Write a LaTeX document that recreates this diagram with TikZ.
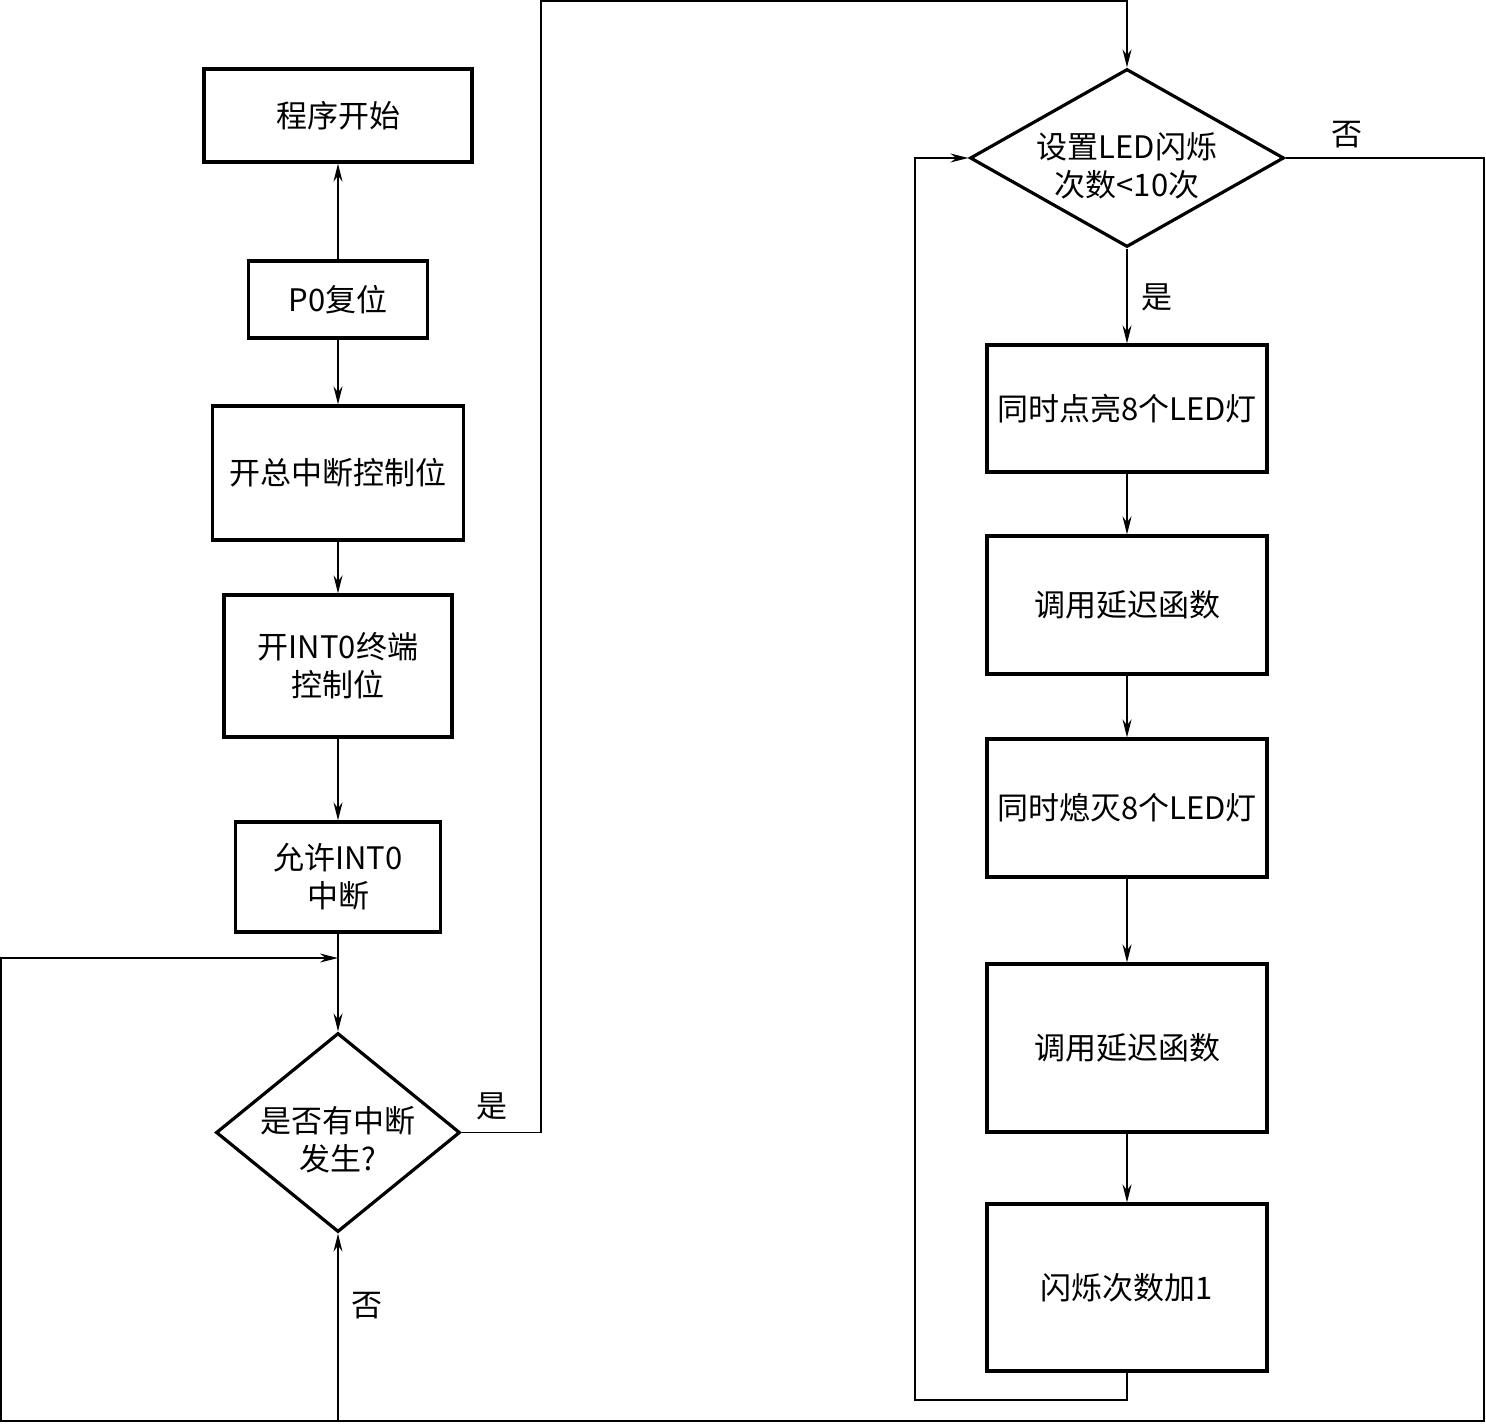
\documentclass[tikz,border=0pt]{standalone}
\usepackage{fontspec}
\setmainfont{Noto Sans CJK SC}
\usetikzlibrary{shapes.geometric,arrows.meta}
\begin{document}
\begin{tikzpicture}[x=0.5pt,y=-0.5pt,
  box/.style={draw,line width=1.6pt,rectangle,inner sep=0pt,align=center},
  dia/.style={draw,line width=1.6pt,diamond,inner sep=0pt},
  txt/.style={align=center,inner sep=0pt},
  arr/.style={line width=0.8pt,-{Stealth[length=9pt,width=4.5pt]}},
  lab/.style={inner sep=0pt},
  font=\fontsize{15.5}{19}\selectfont]
\useasboundingbox (0,0) rectangle (1486,1423);
% left column
\node[box,minimum width=134pt,minimum height=46.5pt] (start) at (338,115.5) {程序开始};
\node[box,minimum width=89.5pt,minimum height=38.5pt] (p0) at (338,299.5) {P0复位};
\node[box,minimum width=125.5pt,minimum height=67pt] (gie) at (338,473) {开总中断控制位};
\node[box,minimum width=114pt,minimum height=71pt] (int0) at (338,666) {开INT0终端\\控制位};
\node[box,minimum width=102.5pt,minimum height=55pt] (allow) at (338,877) {允许INT0\\中断};
\node[dia,minimum width=122pt,minimum height=99.5pt] (d1) at (338,1132.5) {};
\node[txt] (d1t) at (338,1140) {是否有中断\\发生?};
% right column
\node[dia,minimum width=157pt,minimum height=89pt] (d2) at (1127,158) {};
\node[txt] (d2t) at (1127,166) {设置LED闪烁\\次数<10次};
\node[box,minimum width=140pt,minimum height=63.5pt] (b1) at (1127,408.5) {同时点亮8个LED灯};
\node[box,minimum width=140pt,minimum height=69pt] (b2) at (1127,605) {调用延迟函数};
\node[box,minimum width=140pt,minimum height=69pt] (b3) at (1127,808) {同时熄灭8个LED灯};
\node[box,minimum width=140pt,minimum height=84pt] (b4) at (1127,1048) {调用延迟函数};
\node[box,minimum width=140pt,minimum height=83.5pt] (b5) at (1127,1287.5) {闪烁次数加1};
% coordinates
\coordinate (c1) at (541,1132.5);
\coordinate (c2) at (541,1);
\coordinate (c3) at (1127,1);
\coordinate (rc) at (1484,158);
\coordinate (br) at (1484,1421);
\coordinate (bl) at (1,1421);
\coordinate (tl) at (1,958);
\coordinate (j1) at (338,958);
\coordinate (b338) at (338,1421);
\coordinate (l1) at (1127,1400);
\coordinate (l2) at (915,1400);
\coordinate (l3) at (915,158);
% connectors
\draw[arr] (p0.north) -- (start.south);
\draw[arr] (p0.south) -- (gie.north);
\draw[arr] (gie.south) -- (int0.north);
\draw[arr] (int0.south) -- (allow.north);
\draw[arr] (allow.south) -- (d1.north);
\draw[arr] (d1.east) -- (c1) -- (c2) -- (c3) -- (d2.north);
\draw[arr] (d2.east) -- (rc) -- (br) -- (bl) -- (tl) -- (j1);
\draw[arr] (b338) -- (d1.south);
\draw[arr] (d2.south) -- (b1.north);
\draw[arr] (b1.south) -- (b2.north);
\draw[arr] (b2.south) -- (b3.north);
\draw[arr] (b3.south) -- (b4.north);
\draw[arr] (b4.south) -- (b5.north);
\draw[arr] (b5.south) -- (l1) -- (l2) -- (l3) -- (d2.west);
% labels
\node[lab] (ly1) at (492,1106) {是};
\node[lab] (ln1) at (367,1306) {否};
\node[lab] (ly2) at (1157,297) {是};
\node[lab] (ln2) at (1347,135) {否};
\end{tikzpicture}
\end{document}
